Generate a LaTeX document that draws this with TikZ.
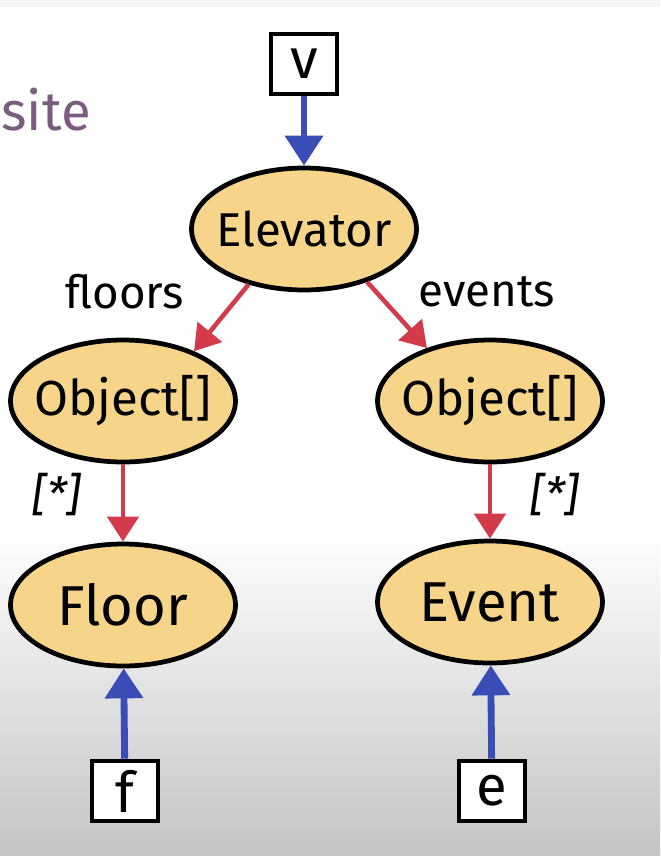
\documentclass[tikz,border=0pt]{standalone}
\usepackage{fontspec}
\setmainfont{Fira Sans}
\usetikzlibrary{shapes.geometric,arrows.meta}
\definecolor{classfill}{HTML}{F6D58B}
\definecolor{refblue}{HTML}{3A4CB5}
\definecolor{fieldred}{HTML}{D23C4A}
\definecolor{titlepurple}{HTML}{7B5C80}

\begin{document}
\begin{tikzpicture}[x=0.02cm, y=-0.02cm,
    cls/.style={ellipse, draw=black, line width=2.7pt, fill=classfill,
      minimum width=4.5cm, minimum height=2.44cm, inner xsep=-14pt, inner ysep=0pt},
    var/.style={rectangle, draw=black, line width=2.7pt, fill=white,
      minimum width=1.32cm, minimum height=1.2cm, inner sep=0pt,
      font=\fontsize{32}{32}\selectfont},
    ref/.style={refblue, line width=3.9pt, -{Triangle[width=0.74cm,length=0.6cm]}},
    field/.style={fieldred, line width=2.6pt, -{Triangle[width=0.62cm,length=0.5cm]}},
    lbl/.style={font=\fontsize{26}{26}\selectfont}]
  \useasboundingbox (0,0) rectangle (660,856);

  % Background: white at the top, fading to grey at the bottom
  \fill [white] (0,0) rectangle (660,530);
  \fill [black!4] (0,0) rectangle (660,7);
  \shade [top color=white, bottom color=black!23] (0,530) rectangle (660,856);

  % Cut-off slide title
  \node [anchor=base west, text=titlepurple, font=\fontsize{31}{31}\selectfont,
    inner sep=0pt] (title) at (1,130) {site};

  % The objects
  \node [cls, font=\fontsize{27}{27}\selectfont] (elev) at (304,229) {Elevator};
  \foreach \nm/\x in {objl/123, objr/490} {
    \node [cls, font=\fontsize{28}{28}\selectfont] (\nm) at (\x,401) {Object[]};
  }
  \node [cls, font=\fontsize{32}{32}\selectfont] (floor) at (123,605) {Floor};
  \node [cls, font=\fontsize{32}{32}\selectfont] (event) at (490,602) {Event};

  % The variables
  \node [var] (vbox) at (304,64) {v};
  \node [var] (fbox) at (125,791) {f};
  \node [var] (ebox) at (492,791) {e};

  % Fields, with their names
  \draw [field] (elev.225) -- (objl.35);
  \draw [field] (elev.-40) -- (objr.140);
  \draw [field] (objl.south) -- (floor.north);
  \draw [field] (objr.south) -- (event.north);
  \node [lbl] (floorslbl) at (125,292) {floors};
  \node [lbl] (eventslbl) at (487,292) {events};
  \foreach \nm/\x in {stara/57, starb/555} {
    \node [lbl, font=\fontsize{26}{26}\selectfont\itshape] (\nm) at (\x,495) {[*]};
  }

  % References from the variables
  \draw [ref] (vbox) -- (elev);
  \draw [ref] (fbox) -- (floor);
  \draw [ref] (ebox) -- (event);
\end{tikzpicture}
\end{document}
